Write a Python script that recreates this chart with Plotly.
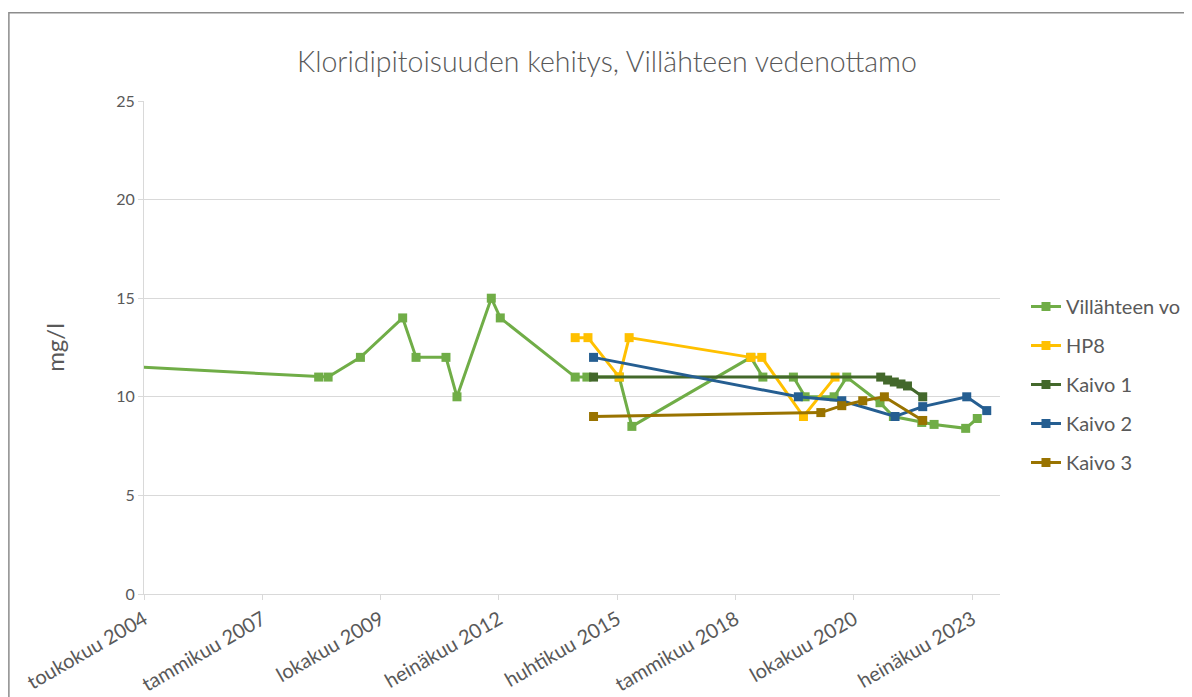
import plotly.graph_objects as go

# ---------------- data ----------------
villahde_dates = ["2000-01-01", "2008-05-16", "2008-08-04", "2009-05-04", "2010-04-26",
                  "2010-08-17", "2011-04-27", "2011-07-29", "2012-05-14", "2012-07-29",
                  "2014-04-23", "2014-07-31", "2015-04-30", "2015-08-15", "2018-05-16",
                  "2018-08-26", "2019-05-11", "2019-08-18", "2020-04-19", "2020-08-04",
                  "2021-05-12", "2021-09-02", "2022-04-30", "2022-08-12", "2023-05-06",
                  "2023-08-12"]
villahde_vals = [12, 11, 11, 12, 14, 12, 12, 10, 15, 14,
                 11, 11, 11, 8.5, 12, 11, 11, 10, 10, 11,
                 9.7, 9.0, 8.7, 8.6, 8.4, 8.9]

hp8_dates = ["2014-04-23", "2014-08-09", "2015-04-30", "2015-07-23",
             "2018-05-16", "2018-08-17", "2019-08-04", "2020-04-27"]
hp8_vals = [13, 13, 11, 13, 12, 12, 9.0, 11]

kaivo1_dates = ["2014-09-25", "2021-05-18", "2021-07-15", "2021-09-10",
                "2021-11-05", "2021-12-30", "2022-05-08"]
kaivo1_vals = [11, 11, 10.85, 10.75, 10.65, 10.55, 10.0]

kaivo2_dates = ["2014-09-25", "2019-06-22", "2020-06-23", "2021-09-16",
                "2022-05-08", "2023-05-15", "2023-10-31"]
kaivo2_vals = [12, 10, 9.8, 9.0, 9.5, 10.0, 9.3]

kaivo3_dates = ["2014-09-25", "2019-12-29", "2020-06-23", "2020-12-17",
                "2021-06-18", "2022-05-08"]
kaivo3_vals = [9.0, 9.2, 9.55, 9.8, 10.0, 8.8]

series_names = ["Villähteen vo", "HP8", "Kaivo 1", "Kaivo 2", "Kaivo 3"]
series_colors = ["#70AD47", "#FFC000", "#43682B", "#255E91", "#997300"]

tick_dates = ["2004-05-01", "2007-01-26", "2009-10-22", "2012-07-18",
              "2015-04-14", "2018-01-08", "2020-10-04", "2023-07-01"]
tick_labels = ["toukokuu 2004", "tammikuu 2007", "lokakuu 2009", "heinäkuu 2012",
               "huhtikuu 2015", "tammikuu 2018", "lokakuu 2020", "heinäkuu 2023"]
x_range = ["2004-05-01", "2024-02-20"]
y_ticks = [0, 5, 10, 15, 20, 25]

title_text = "Kloridipitoisuuden kehitys, Villähteen vedenottamo"
y_title = "mg/l"

# ---------------- figure ----------------
FONT = "Lato, 'Open Sans', sans-serif"
TXT = "#595959"
GRID = "#D9D9D9"

fig = go.Figure()
all_x = [villahde_dates, hp8_dates, kaivo1_dates, kaivo2_dates, kaivo3_dates]
all_y = [villahde_vals, hp8_vals, kaivo1_vals, kaivo2_vals, kaivo3_vals]
for i, (xs, ys, nm, col) in enumerate(zip(all_x, all_y, series_names, series_colors)):
    fig.add_trace(go.Scatter(
        x=xs, y=ys, name=nm, mode="lines+markers", legendgroup=f"g{i}",
        line=dict(color=col, width=3),
        marker=dict(symbol="square", size=9, color=col, line=dict(width=0)),
        cliponaxis=True,
    ))

fig.update_layout(
    width=1184, height=689,
    margin=dict(l=135.5, r=192, t=93, b=103, autoexpand=False),
    paper_bgcolor="white", plot_bgcolor="white",
    font=dict(family=FONT, color=TXT, size=16),
    title=dict(text=title_text, x=599 / 1184, xanchor="center", y=1 - 54 / 689, yanchor="middle",
               font=dict(size=28.5, color=TXT, family=FONT, weight=300)),
    showlegend=True,
    legend=dict(x=(1026 - 143.5) / 856.5, xanchor="left", y=(594 - 287) / 493, yanchor="top",
                font=dict(size=20, color=TXT), tracegroupgap=10,
                bgcolor="rgba(0,0,0,0)"),
    xaxis=dict(type="date", range=x_range, tickvals=tick_dates, ticktext=tick_labels,
               tickangle=-30, showgrid=False, showline=True, linecolor=GRID, linewidth=1,
               ticks="outside", ticklen=5, tickcolor=GRID, zeroline=False,
               tickfont=dict(size=20, color=TXT)),
    yaxis=dict(range=[0, 25], tickvals=y_ticks, showgrid=True,
               gridcolor=GRID, gridwidth=1, showline=True, linecolor=GRID, linewidth=1,
               ticks="outside", ticklen=5, tickcolor=GRID, zeroline=False,
               tickfont=dict(size=16, color=TXT),
               title=dict(text=y_title, standoff=44, font=dict(size=24, color=TXT))),
)

# chart-area frame (partially outside the visible window like the reference)
fig.add_shape(type="rect", xref="paper", yref="paper",
              x0=(8.3 - 143.5) / 856.5, x1=1.6, y0=-0.6, y1=(594 - 12.7) / 493,
              line=dict(color="#8C8C8C", width=1.5), fillcolor="rgba(0,0,0,0)", layer="below")

fig.write_html("out.html")
